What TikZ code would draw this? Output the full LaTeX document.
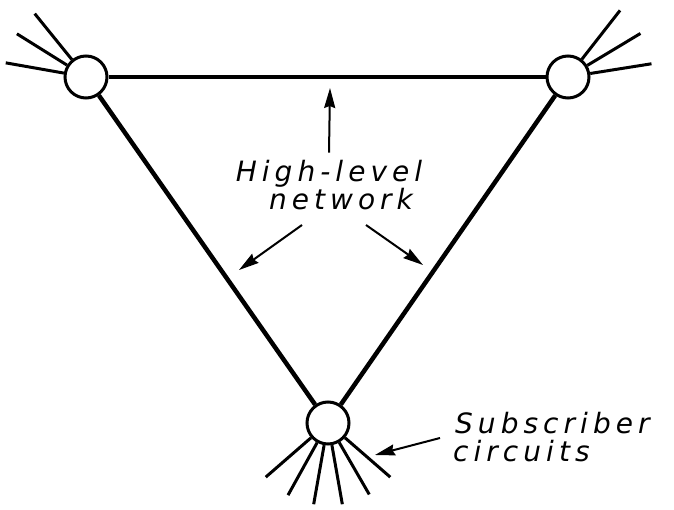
\documentclass[tikz,border=0pt]{standalone}
\usepackage{fontspec}
\newfontfamily\lettering[LetterSpace=18]{DejaVu Sans}
\usetikzlibrary{arrows.meta}

\begin{document}
\begin{tikzpicture}[
    x=1pt, y=1pt,
    note/.style={inner sep=0pt, font=\lettering\itshape\fontsize{28}{32}\selectfont},
    hub/.style={circle, draw, line width=3pt, minimum size=42pt, inner sep=0pt, fill=white},
    trunk/.style={line width=4.5pt},
    spoke/.style={line width=3pt},
    pointer/.style={line width=2pt, -{Stealth[length=20pt, width=11pt, inset=2pt]}},
]
\useasboundingbox (0,0) rectangle (674,509);
% exchanges
\node[hub] (west) at (86,432) {};
\node[hub] (east) at (568,432) {};
\node[hub] (south) at (328,86) {};
% high-level network
\draw[trunk] (west) -- (east);
\draw[trunk] (west) -- (south);
\draw[trunk] (east) -- (south);
% subscriber lines
\foreach \a in {129,148,170} \draw[spoke] (west.\a) -- ++(\a:59);
\foreach \a in {52,31,9} \draw[spoke] (east.\a) -- ++(\a:62);
\foreach \a in {-139,-119,-100,-80,-60,-41} \draw[spoke] (south.\a) -- ++(\a:60);
% texts
\node[note, anchor=base] (high) at (329,327) {High-level};
\node[note, anchor=base] (net) at (341,299) {network};
\node[note, anchor=base west] (sub) at (455,76) {Subscriber};
\node[note, anchor=base west] (circ) at (453,48) {circuits};
% pointers
\coordinate (uptip) at (330,421);
\coordinate (lefttip) at (239,239);
\coordinate (righttip) at (423,244);
\coordinate (subtip) at (375,54);
\draw[pointer] ([yshift=8pt]high.north) -- (uptip);
\draw[pointer] ([shift={(-39,-15)}]net.base) -- (lefttip);
\draw[pointer] ([shift={(25,-15)}]net.base) -- (righttip);
\draw[pointer] ([shift={(-15,-5)}]sub.base west) -- (subtip);
\end{tikzpicture}
\end{document}
